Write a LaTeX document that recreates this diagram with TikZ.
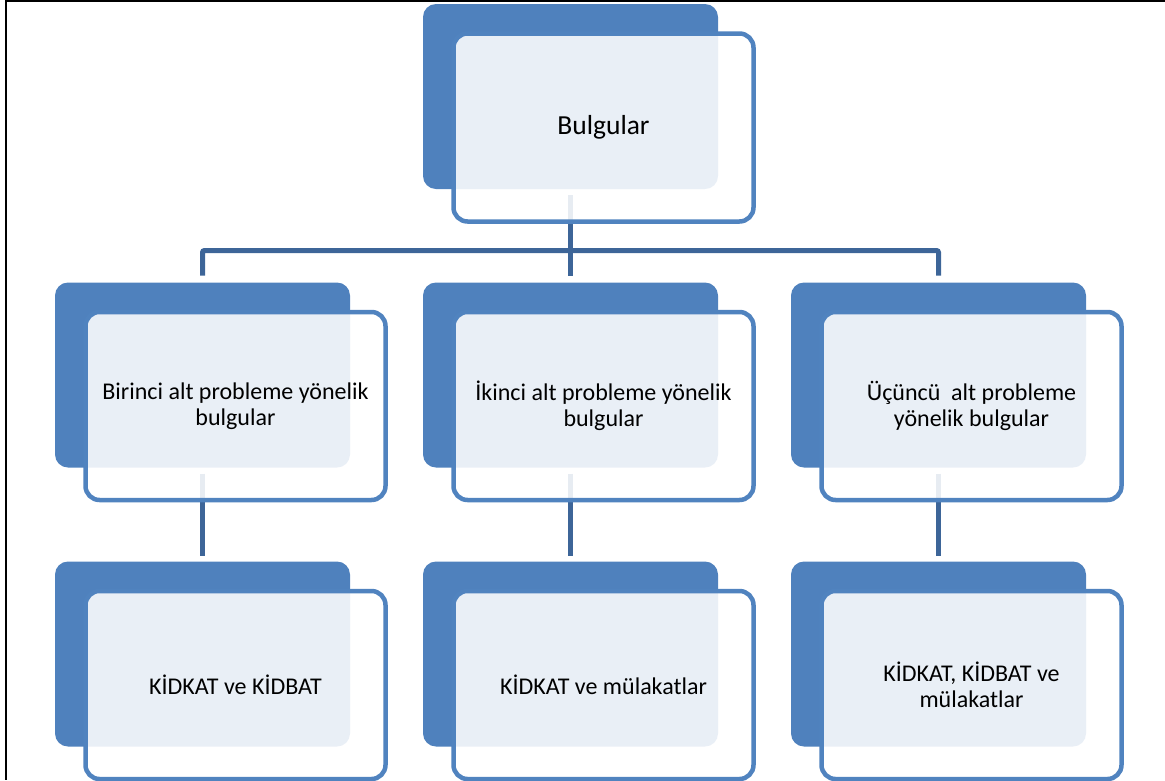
\documentclass[tikz,border=0pt]{standalone}
\usepackage{fontspec}
\setmainfont{Carlito}
\usetikzlibrary{calc}
\pgfdeclarelayer{bg}
\pgfsetlayers{bg,main}
\definecolor{bblue}{HTML}{4F81BD}
\definecolor{fblue}{HTML}{5083BF}
\definecolor{cblue}{HTML}{3D6598}
\begin{document}
\begin{tikzpicture}[x=1pt,y=-1pt,
  backbox/.style={fill=bblue, rounded corners=13pt, minimum width=295pt, minimum height=185pt, inner sep=0pt, outer sep=0pt},
  frontbox/.style={draw=fblue, line width=4.5pt, fill=white, fill opacity=0.88, text opacity=1, rounded corners=14pt, minimum width=300pt, minimum height=188pt, inner sep=0pt, outer sep=0pt, align=center, text=black, font=\fontsize{24}{26.5}\selectfont},
  conn/.style={draw=cblue, line width=5pt},
  frame/.style={draw=black, line width=2.5pt}]
\useasboundingbox (0,0) rectangle (1165,780);
% top level
\node[backbox] (b0) at (570.5,96.5) {};
\node[frontbox, font=\fontsize{27.5}{33}\selectfont] (f0) at (603.5,127.5) {Bulgular};
% second row
\node[backbox] (b1) at (202.5,375) {};
\node[frontbox] (f1) at (235.5,406) {Birinci alt probleme yönelik\\bulgular};
\node[backbox] (b2) at (570.5,375) {};
\node[frontbox] (f2) at (603.5,406) {İkinci alt probleme yönelik\\bulgular};
\node[backbox] (b3) at (938.5,375) {};
\node[frontbox] (f3) at (971.5,406) {Üçüncü\ \ alt probleme\\yönelik bulgular};
% third row
\node[backbox] (d1) at (202.5,654) {};
\node[frontbox] (g1) at (235.5,685) {KİDKAT ve KİDBAT};
\node[backbox] (d2) at (570.5,654) {};
\node[frontbox] (g2) at (603.5,685) {KİDKAT ve mülakatlar};
\node[backbox] (d3) at (938.5,654) {};
\node[frontbox] (g3) at (971.5,685) {KİDKAT, KİDBAT ve\\mülakatlar};
% connectors
\begin{pgfonlayer}{bg}
\draw[conn, shorten <=6pt] (b0.south) -- ($(b2.north)+(0,-7)$);
\draw[conn, shorten <=7pt, shorten >=7pt, rounded corners=2pt] (b1.north) -- ++(0,-32) -| (b3.north);
\draw[conn, shorten <=6pt, shorten >=6pt] (b1.south) -- (d1.north);
\draw[conn, shorten <=6pt, shorten >=6pt] (b2.south) -- (d2.north);
\draw[conn, shorten <=6pt, shorten >=6pt] (b3.south) -- (d3.north);
\end{pgfonlayer}
% frame
\coordinate (tl) at (6,1.2);
\coordinate (tr) at (1165,1.2);
\coordinate (bl) at (6,780);
\draw[frame] (tr) -- (tl);
\draw[draw=black, line width=2pt] (6,0) -- (bl);
\end{tikzpicture}
\end{document}
